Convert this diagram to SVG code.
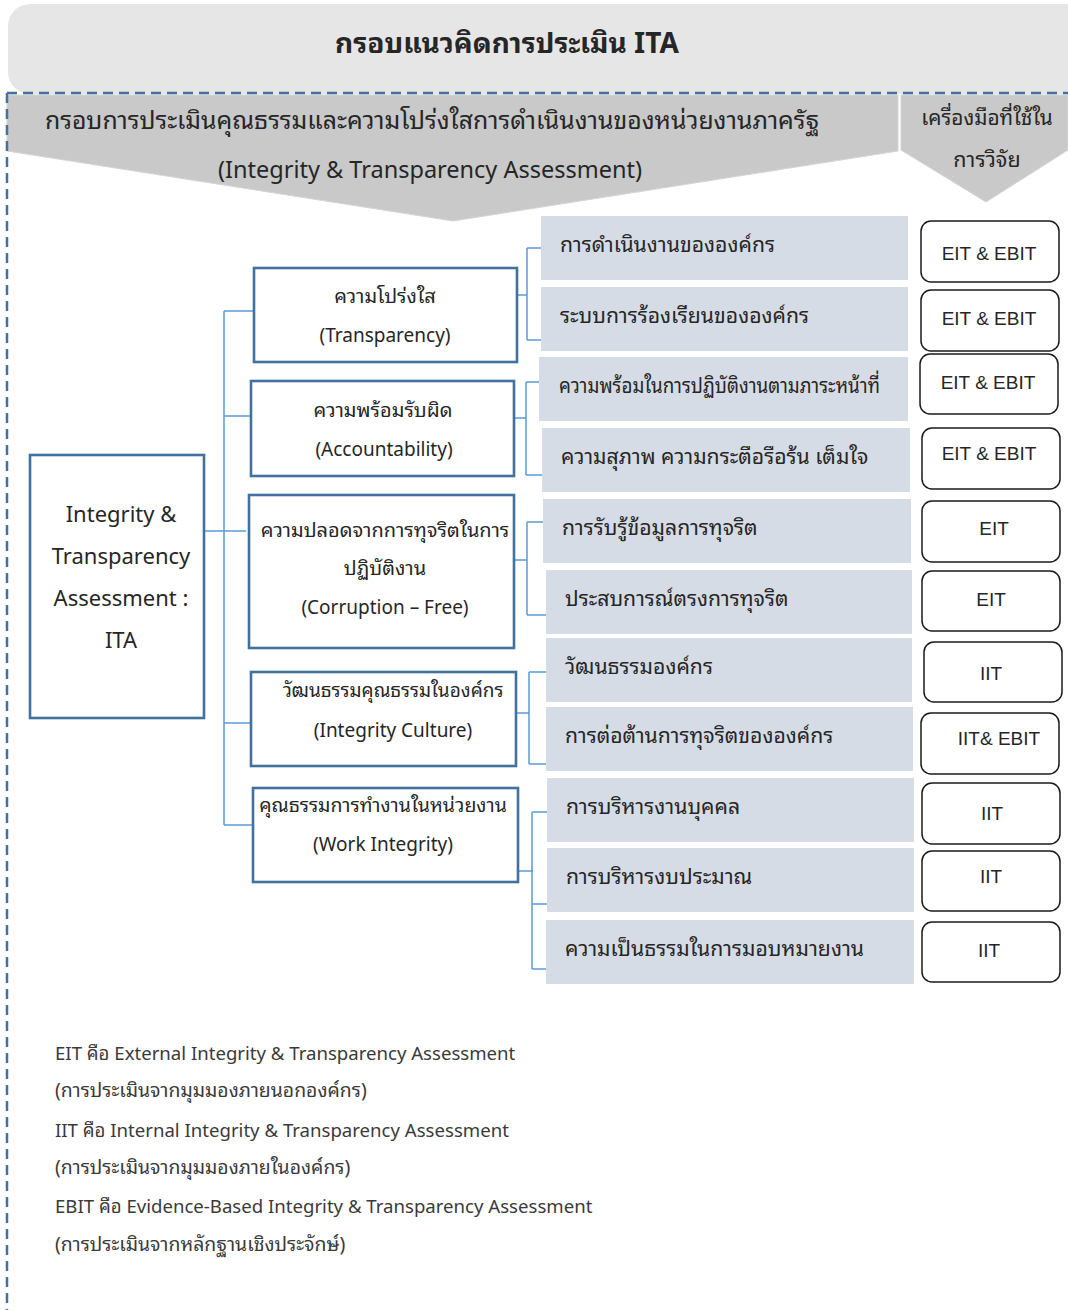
<svg xmlns="http://www.w3.org/2000/svg" width="1068" height="1310" viewBox="0 0 1068 1310">
<style>
text{font-family:"Noto Sans Thai Looped","Loma","Garuda","Noto Sans Thai","Noto Sans","Liberation Sans",sans-serif;fill:#262626}
.t2{font-size:20px;text-anchor:middle}
.t2e{font-size:19px;text-anchor:middle}
.ti{font-size:22px;text-anchor:middle}
.t3{font-size:21.2px}
.tb{font-size:19px;text-anchor:middle;font-family:"Liberation Sans","Noto Sans",sans-serif}
.lg{font-size:18.6px;fill:#3a3a3a}
.lt{font-size:19.4px;fill:#3a3a3a}
.b2{fill:#fff;stroke:#41719c;stroke-width:2.6}
.b3{fill:#d6dce5}
.bt{fill:#fff;stroke:#1a1a1a;stroke-width:1.5}
.cn{fill:none;stroke:#5b9bd5;stroke-width:1.5}
</style>
<rect width="1068" height="1310" fill="#fff"/>
<g id="header">
<rect x="8" y="4" width="1080" height="90" rx="22" fill="#e6e6e6"/>
<text x="507" y="53" font-size="28" font-weight="bold" text-anchor="middle" fill="#1a1a1a">กรอบแนวคิดการประเมิน ITA</text>
</g>
<g id="banner-main">
<polygon points="7,95 898,95 898,151 453,221 7,151" fill="#c9c9c9" stroke="#d4d4d4" stroke-width="1"/>
<text x="432" y="129" font-size="24.8" text-anchor="middle">กรอบการประเมินคุณธรรมและความโปร่งใสการดำเนินงานของหน่วยงานภาครัฐ</text>
<text x="430" y="178" font-size="23.5" text-anchor="middle">(Integrity &amp; Transparency Assessment)</text>
</g>
<g id="banner-tools">
<polygon points="901,95 1068,95 1068,150 986,202 901,150" fill="#c9c9c9" stroke="#d4d4d4" stroke-width="1"/>
<text x="987" y="125" font-size="20.8" text-anchor="middle">เครื่องมือที่ใช้ใน</text>
<text x="987" y="167" font-size="21.5" text-anchor="middle">การวิจัย</text>
</g>
<g id="connectors">
<path class="cn" d="M204,531 H246 M224,311 V825 M224,311 H254 M224,416 H251 M224,723 H251 M224,825 H253"/>
<path class="cn" d="M517,295 H527 M527,248 V340 M527,248 H541 M527,340 H541"/>
<path class="cn" d="M514,418 H526 M526,382 V475 M526,382 H539 M526,475 H542"/>
<path class="cn" d="M514,560 H527 M527,522 V615 M527,522 H543 M527,615 H546"/>
<path class="cn" d="M516,713 H529 M529,672 V764 M529,672 H546 M529,764 H546"/>
<path class="cn" d="M518,871 H533 M532,812 V969 M532,812 H547 M532,904 H547 M532,969 H546"/>
</g>
<g id="ita">
<rect class="b2" x="30" y="455" width="174" height="263"/>
<text class="ti" x="121" y="522">Integrity &amp;</text>
<text class="ti" x="121" y="564">Transparency</text>
<text class="ti" x="121" y="606">Assessment :</text>
<text class="ti" x="121" y="648">ITA</text>
</g>
<g id="transparency">
<rect class="b2" x="254" y="268" width="263" height="94"/>
<text class="t2" x="385" y="303">ความโปร่งใส</text>
<text class="t2e" x="385" y="342">(Transparency)</text>
</g>
<g id="accountability">
<rect class="b2" x="251" y="381" width="263" height="95"/>
<text class="t2" x="383" y="417">ความพร้อมรับผิด</text>
<text class="t2e" x="384" y="456">(Accountability)</text>
</g>
<g id="corruption-free">
<rect class="b2" x="249" y="495" width="265" height="153"/>
<text class="t2" x="385" y="537">ความปลอดจากการทุจริตในการ</text>
<text class="t2" x="385" y="575">ปฏิบัติงาน</text>
<text class="t2e" x="385" y="614">(Corruption – Free)</text>
</g>
<g id="integrity-culture">
<rect class="b2" x="251" y="672" width="265" height="94"/>
<text class="t2" x="393" y="697" style="font-size:19px">วัฒนธรรมคุณธรรมในองค์กร</text>
<text class="t2e" x="393" y="737">(Integrity Culture)</text>
</g>
<g id="work-integrity">
<rect class="b2" x="253" y="788" width="265" height="94"/>
<text class="t2" x="383" y="812" style="font-size:19.5px">คุณธรรมการทำงานในหน่วยงาน</text>
<text class="t2e" x="383" y="851">(Work Integrity)</text>
</g>
<g id="i1"><rect class="b3" x="541" y="216" width="367" height="64"/><text class="t3" x="560" y="252">การดำเนินงานขององค์กร</text></g>
<g id="i2"><rect class="b3" x="541" y="287" width="367" height="64"/><text class="t3" x="560" y="323">ระบบการร้องเรียนขององค์กร</text></g>
<g id="i3"><rect class="b3" x="539" y="357" width="369" height="64"/><text class="t3" x="559" y="393" textLength="321" lengthAdjust="spacingAndGlyphs">ความพร้อมในการปฏิบัติงานตามภาระหน้าที่</text></g>
<g id="i4"><rect class="b3" x="542" y="428" width="368" height="64"/><text class="t3" x="561" y="464">ความสุภาพ ความกระตือรือร้น เต็มใจ</text></g>
<g id="i5"><rect class="b3" x="543" y="499" width="368" height="64"/><text class="t3" x="562" y="535">การรับรู้ข้อมูลการทุจริต</text></g>
<g id="i6"><rect class="b3" x="546" y="570" width="366" height="64"/><text class="t3" x="565" y="606">ประสบการณ์ตรงการทุจริต</text></g>
<g id="i7"><rect class="b3" x="546" y="638" width="366" height="64"/><text class="t3" x="565" y="674">วัฒนธรรมองค์กร</text></g>
<g id="i8"><rect class="b3" x="546" y="707" width="367" height="64"/><text class="t3" x="565" y="743">การต่อต้านการทุจริตขององค์กร</text></g>
<g id="i9"><rect class="b3" x="547" y="778" width="367" height="64"/><text class="t3" x="566" y="814">การบริหารงานบุคคล</text></g>
<g id="i10"><rect class="b3" x="547" y="848" width="367" height="64"/><text class="t3" x="566" y="884">การบริหารงบประมาณ</text></g>
<g id="i11"><rect class="b3" x="546" y="920" width="368" height="64"/><text class="t3" x="565" y="956">ความเป็นธรรมในการมอบหมายงาน</text></g>
<g id="r1"><rect class="bt" x="921" y="221" width="138" height="61" rx="10"/><text class="tb" x="989" y="260">EIT &amp; EBIT</text></g>
<g id="r2"><rect class="bt" x="921" y="290" width="138" height="61" rx="10"/><text class="tb" x="989" y="325">EIT &amp; EBIT</text></g>
<g id="r3"><rect class="bt" x="920" y="354" width="138" height="60" rx="10"/><text class="tb" x="988" y="389">EIT &amp; EBIT</text></g>
<g id="r4"><rect class="bt" x="922" y="428" width="138" height="61" rx="10"/><text class="tb" x="989" y="460">EIT &amp; EBIT</text></g>
<g id="r5"><rect class="bt" x="922" y="501" width="138" height="61" rx="10"/><text class="tb" x="994" y="535">EIT</text></g>
<g id="r6"><rect class="bt" x="922" y="571" width="138" height="60" rx="10"/><text class="tb" x="991" y="606">EIT</text></g>
<g id="r7"><rect class="bt" x="924" y="642" width="138" height="60" rx="10"/><text class="tb" x="991" y="680">IIT</text></g>
<g id="r8"><rect class="bt" x="921" y="713" width="138" height="61" rx="10"/><text class="tb" x="999" y="745">IIT&amp; EBIT</text></g>
<g id="r9"><rect class="bt" x="922" y="783" width="138" height="61" rx="10"/><text class="tb" x="992" y="820">IIT</text></g>
<g id="r10"><rect class="bt" x="922" y="851" width="138" height="60" rx="10"/><text class="tb" x="991" y="883">IIT</text></g>
<g id="r11"><rect class="bt" x="922" y="922" width="138" height="60" rx="10"/><text class="tb" x="989" y="957">IIT</text></g>
<g id="legend">
<text class="lg" x="55" y="1060">EIT คือ External Integrity &amp; Transparency Assessment</text>
<text class="lt" x="55" y="1097">(การประเมินจากมุมมองภายนอกองค์กร)</text>
<text class="lg" x="55" y="1137">IIT คือ Internal Integrity &amp; Transparency Assessment</text>
<text class="lt" x="55" y="1174">(การประเมินจากมุมมองภายในองค์กร)</text>
<text class="lg" x="55" y="1213">EBIT คือ Evidence-Based Integrity &amp; Transparency Assessment</text>
<text class="lt" x="55" y="1251">(การประเมินจากหลักฐานเชิงประจักษ์)</text>
</g>
<path d="M7,93 H1068 M7,93 V1310" fill="none" stroke="#41719c" stroke-width="2.5" stroke-dasharray="10 6"/>
</svg>
